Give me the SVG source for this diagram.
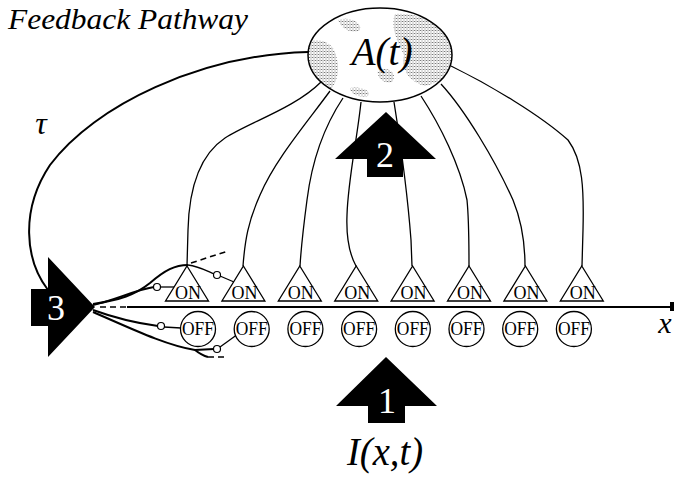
<svg xmlns="http://www.w3.org/2000/svg" width="674" height="478" viewBox="0 0 674 478">
  <style>
    text { font-family: "Liberation Serif", "Times New Roman", "DejaVu Serif", serif; }
    .ital { font-style: italic; }
    .wire { fill: none; stroke: #000; stroke-width: 1.3; }
    .thick { fill: none; stroke: #000; stroke-width: 2; }
    .dash { fill: none; stroke: #000; stroke-width: 1.6; stroke-dasharray: 6 4; }
    .on { fill: #fff; stroke: #000; stroke-width: 1.3; }
    .off { fill: #fff; stroke: #000; stroke-width: 1.3; }
    .cell { font-size: 18px; text-anchor: middle; fill: #000; }
    .knob { fill: #fff; stroke: #000; stroke-width: 1.2; }
    .bigarrow { fill: #000; }
    .num { font-size: 36px; text-anchor: middle; fill: #fff; }
  </style>
  <defs>
    <pattern id="stipple" width="3" height="3" patternUnits="userSpaceOnUse">
      <rect x="0" y="0" width="1" height="1" fill="#7a7a7a"/>
      <rect x="1.5" y="1.5" width="1" height="1" fill="#7a7a7a"/>
      <rect x="1.5" y="0" width="1" height="1" fill="#a0a0a0"/>
    </pattern>
    <clipPath id="blobClip">
      <ellipse cx="380" cy="55" rx="72" ry="47"/>
    </clipPath>
  </defs>

  <!-- feedback pathway and ellipse-to-ON connectors -->
  <g id="connectors">
    <path class="thick" d="M308,52 C200,55 95,105 50,165 C20,210 25,260 48,290"/>
    <path class="wire" d="M321,82 C295,108 250,122 225,138 C198,156 189,190 188,230 L187,266"/>
    <path class="wire" d="M330,91 C305,125 275,160 260,195 C248,222 245,240 243,266"/>
    <path class="wire" d="M343,98 C325,125 312,160 307,200 C303,230 301,250 300,266"/>
    <path class="wire" d="M361,102 C357,140 348,180 347,215 C346,240 350,255 356,266"/>
    <path class="wire" d="M394,102 C400,140 408,200 411,240 L412,266"/>
    <path class="wire" d="M421,96 C440,125 460,165 467,200 C469,220 469,245 469,266"/>
    <path class="wire" d="M441,84 C465,110 495,160 513,200 C522,222 525,245 525,266"/>
    <path class="wire" d="M451,66 C490,85 540,115 568,140 C583,160 584,190 583,230 L582,266"/>

    <!-- lateral bundle from the integrator -->
    <path class="thick" d="M93,304 C120,300 135,295 150,283 C165,270 175,265 188,265"/>
    <path class="wire" d="M188,265 C198,266 205,270 214,274"/>
    <path class="wire" d="M220,276 L234,282"/>
    <path class="dash" d="M191,263 L228,251"/>
    <path class="thick" d="M93,305 C115,300 135,290 154,287"/>
    <path class="wire" d="M160,287 L177,287"/>
    <path class="thick" d="M93,310 C115,318 135,323 158,326"/>
    <path class="wire" d="M164,327 L181,328"/>
    <path class="thick" d="M93,312 C130,328 165,345 195,350 L214,349"/>
    <path class="thick" d="M195,350 C200,354 204,356 208,357"/>
    <path class="dash" d="M208,357 L228,357"/>
    <path class="wire" d="M220,347 L238,334"/>
    <circle class="knob" cx="217" cy="275" r="3.5"/>
    <circle class="knob" cx="157" cy="287" r="3.5"/>
    <circle class="knob" cx="161" cy="326" r="3.5"/>
    <circle class="knob" cx="217" cy="349" r="3.5"/>
  </g>

  <!-- space axis -->
  <g id="axis">
    <path class="dash" d="M100,307 L127,307" stroke-dasharray="5 3"/>
    <line x1="127" y1="307" x2="671" y2="307" stroke="#000" stroke-width="2"/>
    <rect x="670" y="302" width="4" height="9" fill="#000"/>
    <text class="ital" x="665" y="333" font-size="30" text-anchor="middle">x</text>
  </g>

  <!-- global activity node -->
  <g id="node-A">
    <ellipse cx="380" cy="55" rx="72" ry="47" fill="#fff"/>
    <g clip-path="url(#blobClip)" fill="url(#stipple)">
      <path d="M395,14 C420,12 445,25 452,50 C455,70 445,82 425,86 C410,82 400,70 404,55 C398,42 390,28 395,14 Z"/>
      <path d="M308,42 C318,38 332,40 336,55 C340,68 338,82 330,90 C318,86 310,72 308,60 Z"/>
      <path d="M338,20 C350,16 362,22 360,30 C352,34 342,30 338,20 Z"/>
      <path d="M350,88 C360,86 372,90 368,96 C358,98 350,94 350,88 Z"/>
      <path d="M378,70 C390,66 398,74 392,82 C384,84 376,78 378,70 Z"/>
    </g>
    <ellipse cx="380" cy="55" rx="72" ry="47" fill="none" stroke="#000" stroke-width="1.5"/>
    <text class="ital" x="382" y="65" font-size="40" text-anchor="middle" textLength="61" lengthAdjust="spacingAndGlyphs">A(t)</text>
  </g>

  <g id="label-feedback">
    <text class="ital" x="8" y="29" font-size="30" textLength="240" lengthAdjust="spacingAndGlyphs">Feedback Pathway</text>
  </g>
  <g id="label-tau">
    <text class="ital" x="41" y="134" font-size="32" text-anchor="middle">τ</text>
  </g>

  <!-- ON cells -->
  <g id="on-1"><polygon class="on" points="187,266 208.5,301 165.5,301"/><text class="cell" x="188" y="299" textLength="26" lengthAdjust="spacingAndGlyphs">ON</text></g>
  <g id="on-2"><polygon class="on" points="243.4,266 264.9,301 221.9,301"/><text class="cell" x="244.4" y="299" textLength="26" lengthAdjust="spacingAndGlyphs">ON</text></g>
  <g id="on-3"><polygon class="on" points="299.8,266 321.3,301 278.3,301"/><text class="cell" x="300.8" y="299" textLength="26" lengthAdjust="spacingAndGlyphs">ON</text></g>
  <g id="on-4"><polygon class="on" points="356.2,266 377.7,301 334.7,301"/><text class="cell" x="357.2" y="299" textLength="26" lengthAdjust="spacingAndGlyphs">ON</text></g>
  <g id="on-5"><polygon class="on" points="412.6,266 434.1,301 391.1,301"/><text class="cell" x="413.6" y="299" textLength="26" lengthAdjust="spacingAndGlyphs">ON</text></g>
  <g id="on-6"><polygon class="on" points="469,266 490.5,301 447.5,301"/><text class="cell" x="470" y="299" textLength="26" lengthAdjust="spacingAndGlyphs">ON</text></g>
  <g id="on-7"><polygon class="on" points="525.4,266 546.9,301 503.9,301"/><text class="cell" x="526.4" y="299" textLength="26" lengthAdjust="spacingAndGlyphs">ON</text></g>
  <g id="on-8"><polygon class="on" points="581.8,266 603.3,301 560.3,301"/><text class="cell" x="582.8" y="299" textLength="26" lengthAdjust="spacingAndGlyphs">ON</text></g>

  <!-- OFF cells -->
  <g id="off-1"><circle class="off" cx="198" cy="329" r="17.5"/><text class="cell" x="198" y="335" textLength="32" lengthAdjust="spacingAndGlyphs">OFF</text></g>
  <g id="off-2"><circle class="off" cx="251.7" cy="329" r="17.5"/><text class="cell" x="251.7" y="335" textLength="32" lengthAdjust="spacingAndGlyphs">OFF</text></g>
  <g id="off-3"><circle class="off" cx="305.4" cy="329" r="17.5"/><text class="cell" x="305.4" y="335" textLength="32" lengthAdjust="spacingAndGlyphs">OFF</text></g>
  <g id="off-4"><circle class="off" cx="359.1" cy="329" r="17.5"/><text class="cell" x="359.1" y="335" textLength="32" lengthAdjust="spacingAndGlyphs">OFF</text></g>
  <g id="off-5"><circle class="off" cx="412.8" cy="329" r="17.5"/><text class="cell" x="412.8" y="335" textLength="32" lengthAdjust="spacingAndGlyphs">OFF</text></g>
  <g id="off-6"><circle class="off" cx="466.5" cy="329" r="17.5"/><text class="cell" x="466.5" y="335" textLength="32" lengthAdjust="spacingAndGlyphs">OFF</text></g>
  <g id="off-7"><circle class="off" cx="520.2" cy="329" r="17.5"/><text class="cell" x="520.2" y="335" textLength="32" lengthAdjust="spacingAndGlyphs">OFF</text></g>
  <g id="off-8"><circle class="off" cx="573.9" cy="329" r="17.5"/><text class="cell" x="573.9" y="335" textLength="32" lengthAdjust="spacingAndGlyphs">OFF</text></g>

  <!-- numbered stage arrows -->
  <g id="arrow-1">
    <polygon class="bigarrow" points="386,357 437,406 405,406 405,423 368,423 368,406 336,406"/>
    <text class="num" x="387" y="413">1</text>
  </g>
  <g id="arrow-2">
    <polygon class="bigarrow" points="386,112 436,159 403,159 403,177 367,177 367,159 335,159"/>
    <text class="num" x="385" y="167">2</text>
  </g>
  <g id="arrow-3">
    <polygon class="bigarrow" points="48,257 95,307 48,357 48,326 31,326 31,289 48,289"/>
    <text class="num" x="56" y="320">3</text>
  </g>

  <g id="label-input">
    <text class="ital" x="385" y="465" font-size="39" text-anchor="middle" textLength="76" lengthAdjust="spacingAndGlyphs">I(x,t)</text>
  </g>
</svg>
